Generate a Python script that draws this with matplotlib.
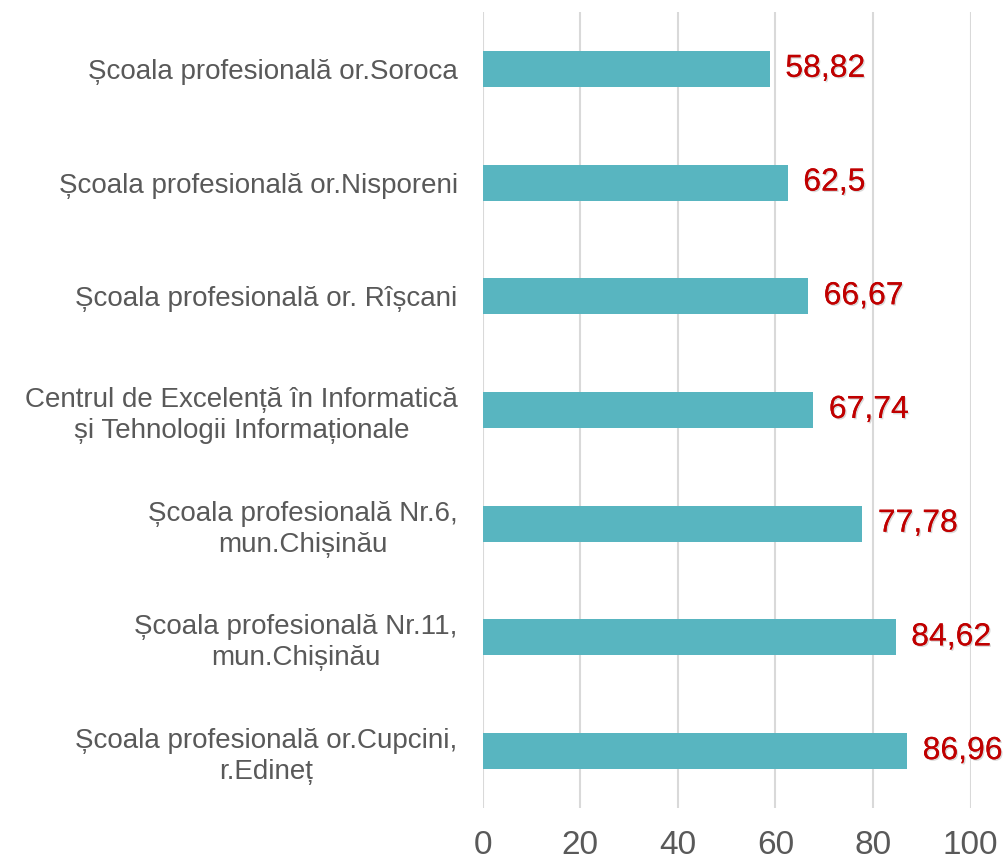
import matplotlib
matplotlib.use("Agg")
import matplotlib.pyplot as plt
import matplotlib.patheffects as pe

plt.rcParams['font.family'] = ['Liberation Sans', 'DejaVu Sans']

# Date (de sus în jos)
scoli = [
    'Școala profesională or.Soroca',
    'Școala profesională or.Nisporeni',
    'Școala profesională or. Rîșcani',
    'Centrul de Excelență în Informatică\nși Tehnologii Informaționale',
    'Școala profesională Nr.6,\nmun.Chișinău',
    'Școala profesională Nr.11,\nmun.Chișinău',
    'Școala profesională or.Cupcini,\nr.Edineț',
]
valori = [58.82, 62.5, 66.67, 67.74, 77.78, 84.62, 86.96]
x_ticks = [0, 20, 40, 60, 80, 100]

fig = plt.figure(figsize=(10.07, 8.61), dpi=100)
ax = fig.add_axes([0.4793, 0.0616, 0.4846, 0.9245])

y = list(range(len(scoli)))
ax.barh(y, valori, height=0.317, color='#58B5C0', zorder=3)

umbra = [pe.withSimplePatchShadow(offset=(1.0, -1.0), shadow_rgbFace='#aaaaaa', alpha=0.45), pe.Normal()]
for yi, v in zip(y, valori):
    ax.text(v + 3.2, yi, f'{v:g}'.replace('.', ','), va='center', ha='left',
            fontsize=23, color='#C00000', path_effects=umbra, zorder=4)

ax.set_xlim(0, 100)
ax.set_ylim(len(scoli) - 0.5, -0.5)
ax.set_xticks(x_ticks)
ax.set_xticklabels([str(t) for t in x_ticks], fontsize=24, color='#595959')
ax.set_yticks(y)
ax.set_yticklabels(scoli, fontsize=20, color='#595959', multialignment='center',
                   linespacing=1.25)
ax.tick_params(axis='both', length=0)
ax.tick_params(axis='x', pad=16)
ax.tick_params(axis='y', pad=18)

ax.grid(axis='x', color='#D9D9D9', linewidth=1.5, zorder=0)
for s in ax.spines.values():
    s.set_visible(False)

plt.savefig('out.png', dpi=100)
